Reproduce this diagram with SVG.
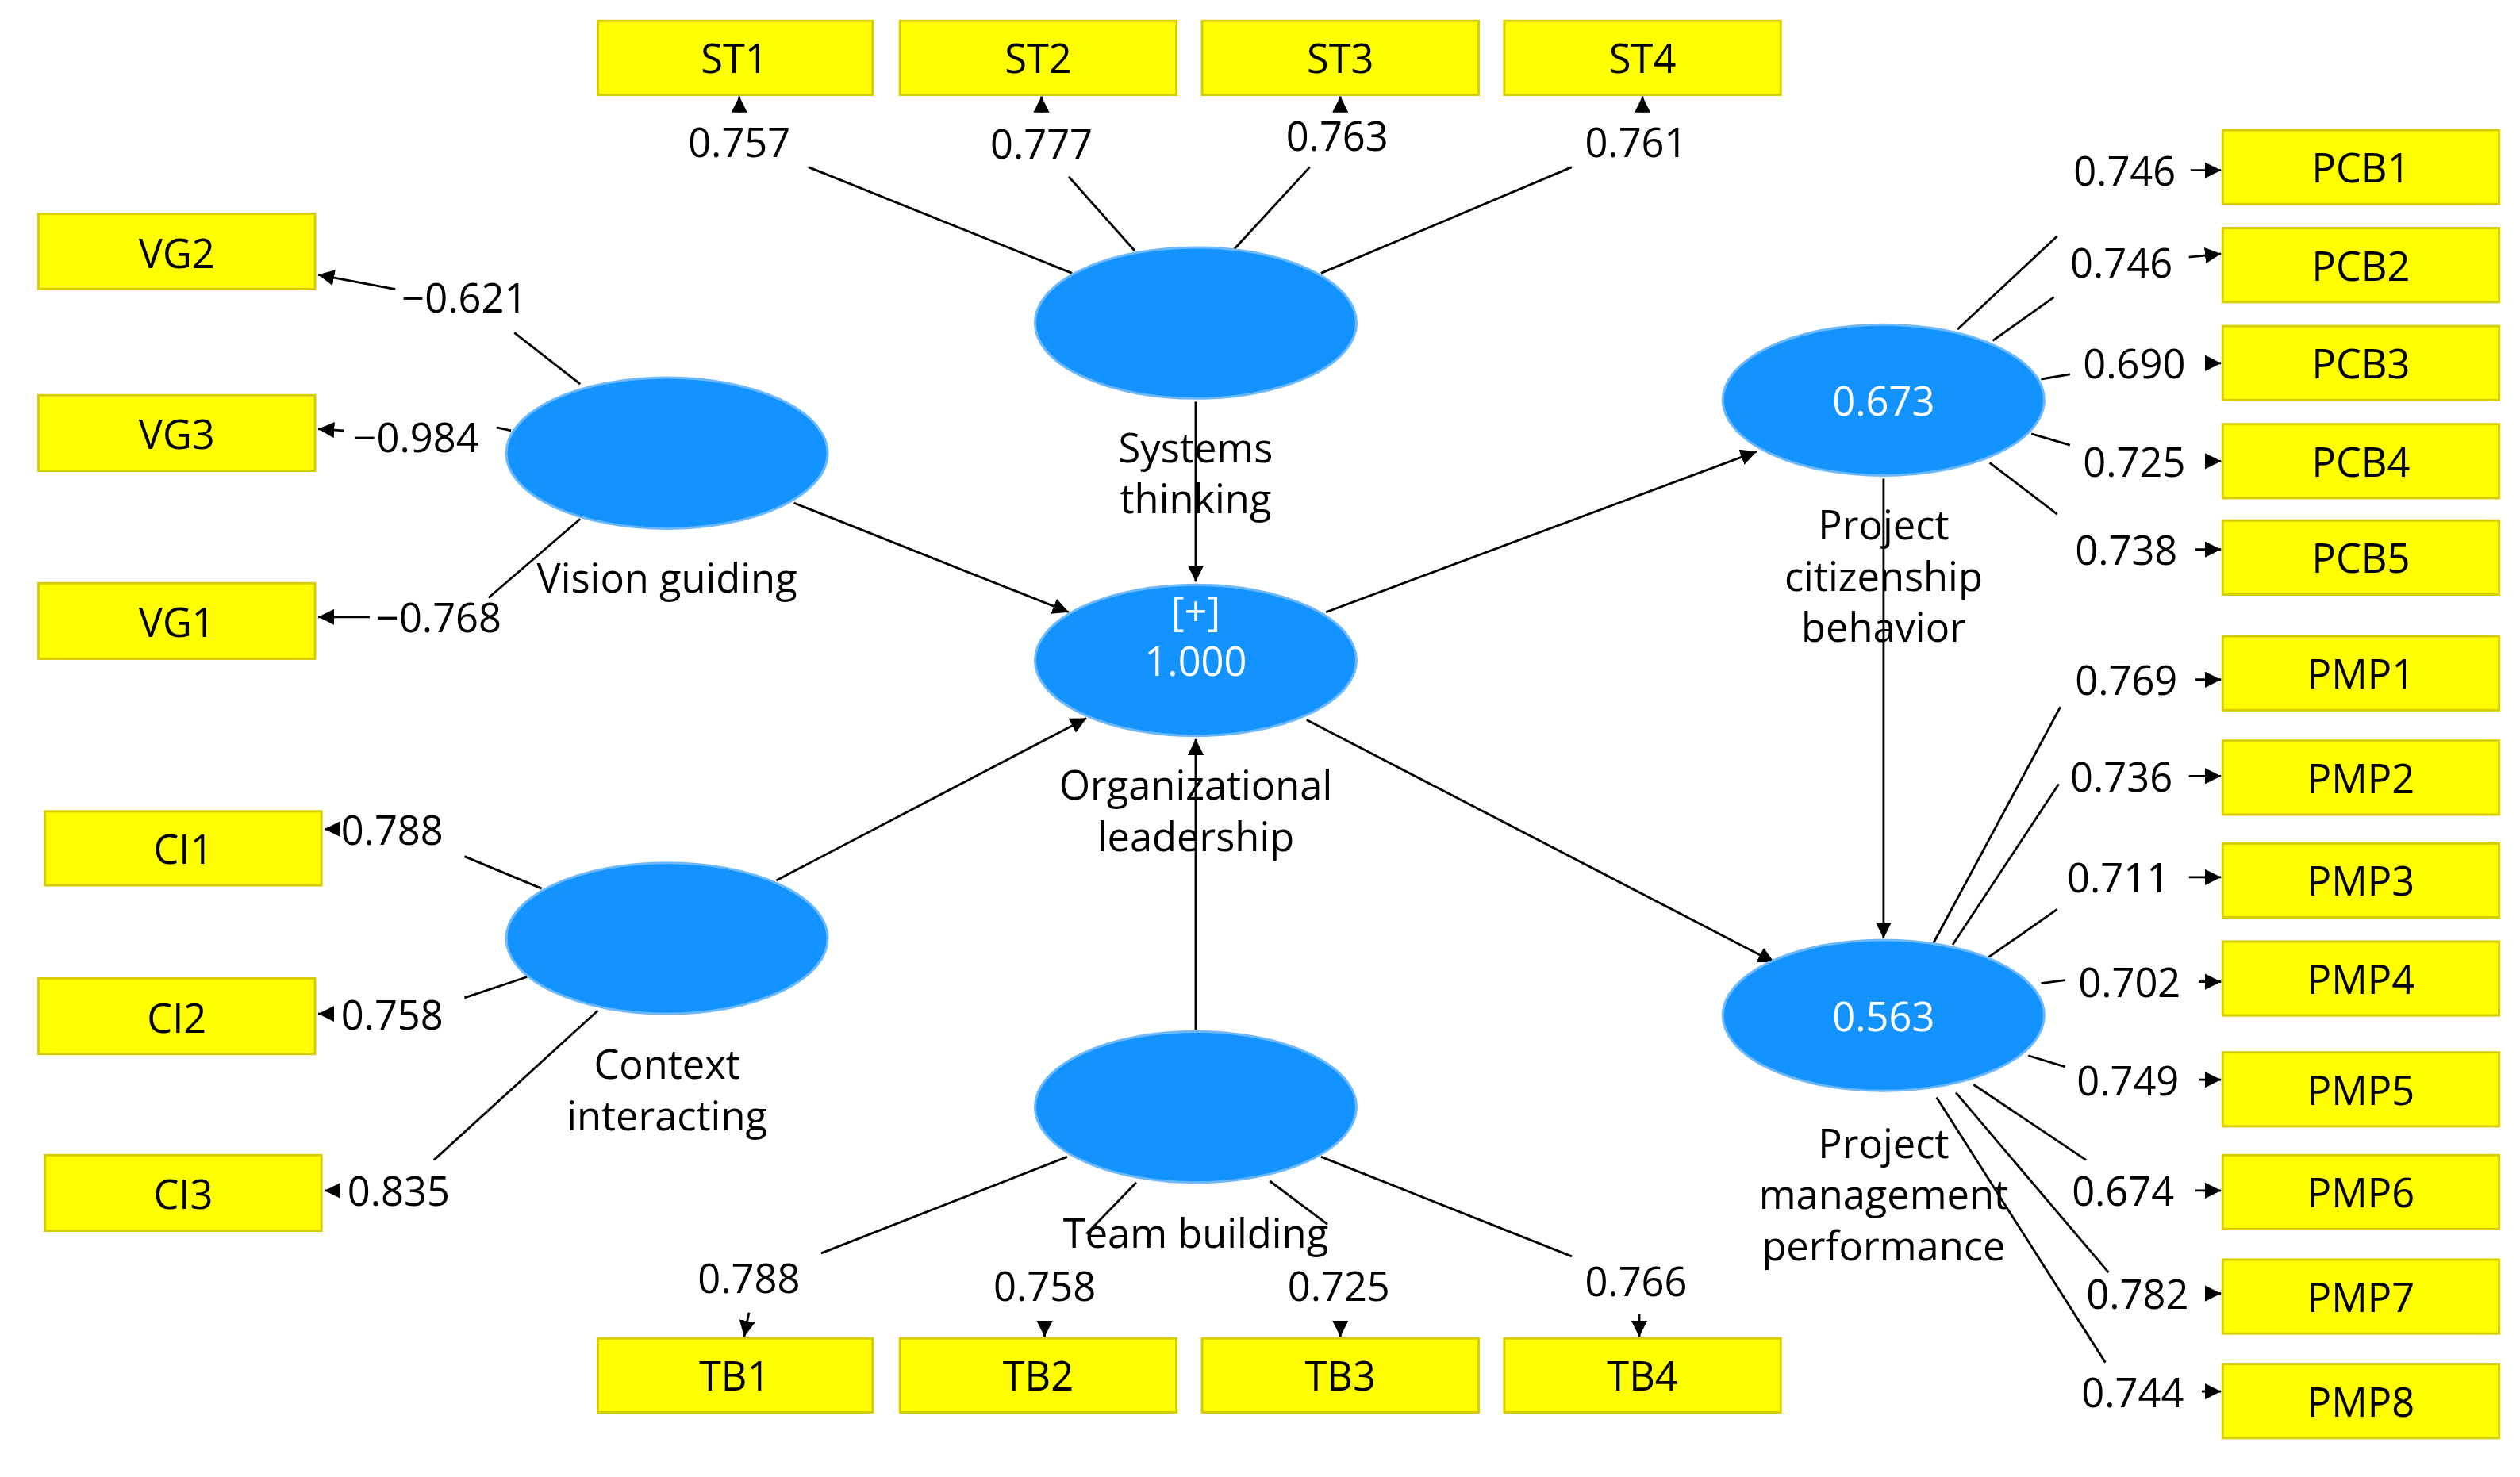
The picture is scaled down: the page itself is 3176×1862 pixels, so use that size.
<svg xmlns="http://www.w3.org/2000/svg" width="3176" height="1862" viewBox="0 0 3176 1862">
<style>
.box{fill:#ffff00;stroke:#d6cc00;stroke-width:1.5}
.lv{fill:#1393ff;stroke:#6cb8ff;stroke-width:1.5}
.bt{font-family:"Open Sans","Noto Sans",sans-serif;font-size:25px;fill:#000;text-anchor:middle;dominant-baseline:central}
.lt{font-family:"Open Sans","Noto Sans",sans-serif;font-size:25px;fill:#000;text-anchor:middle;dominant-baseline:central}
.wt{font-family:"Open Sans","Noto Sans",sans-serif;font-size:25px;fill:#fff;text-anchor:middle;dominant-baseline:central}
.ln{stroke:#000;stroke-width:1.4;fill:none}
.ar{stroke:#000;stroke-width:1.4;fill:none;marker-end:url(#ah)}
</style>
<defs>
<marker id="ah" viewBox="0 0 10 10" refX="10" refY="5" markerWidth="10" markerHeight="10" markerUnits="userSpaceOnUse" orient="auto"><path d="M0,0 L10,5 L0,10 Z" fill="#000"/></marker>
</defs>
<rect width="3176" height="1862" fill="#fff"/>
<g transform="scale(2.0255)">
<g id="connectors">
<line class="ar" x1="744" y1="250" x2="744" y2="362"/>
<line class="ar" x1="494" y1="313" x2="665" y2="381"/>
<line class="ar" x1="483" y1="548" x2="676" y2="447"/>
<line class="ar" x1="744" y1="641" x2="744" y2="460"/>
<line class="ar" x1="825" y1="381" x2="1093" y2="281"/>
<line class="ar" x1="813" y1="448" x2="1104" y2="599"/>
<line class="ar" x1="1172" y1="298" x2="1172" y2="584"/>
<!-- ST -->
<line class="ln" x1="667" y1="170" x2="503" y2="104"/><line class="ar" x1="460" y1="70" x2="460" y2="60"/>
<line class="ln" x1="706" y1="156" x2="665" y2="110"/><line class="ar" x1="648" y1="70" x2="648" y2="60"/>
<line class="ln" x1="768" y1="155" x2="815" y2="104"/><line class="ar" x1="834" y1="68" x2="834" y2="60"/>
<line class="ln" x1="822" y1="170" x2="978" y2="104"/><line class="ar" x1="1022" y1="70" x2="1022" y2="60"/>
<!-- VG -->
<line class="ln" x1="361" y1="239" x2="320" y2="207"/><line class="ar" x1="246" y1="180" x2="198" y2="171"/>
<line class="ln" x1="318" y1="268" x2="309" y2="266"/><line class="ar" x1="214" y1="268" x2="198" y2="267"/>
<line class="ln" x1="361" y1="323" x2="304" y2="372"/><line class="ar" x1="230" y1="384" x2="198" y2="384"/>
<!-- CI -->
<line class="ln" x1="337" y1="553" x2="289" y2="533"/><line class="ar" x1="208" y1="516" x2="202" y2="516"/>
<line class="ln" x1="328" y1="608" x2="289" y2="621"/><line class="ar" x1="205" y1="631" x2="198" y2="631"/>
<line class="ln" x1="372" y1="629" x2="270" y2="722"/><line class="ar" x1="210" y1="741" x2="202" y2="741"/>
<!-- TB -->
<line class="ln" x1="664" y1="720" x2="511" y2="780"/><line class="ar" x1="466" y1="817" x2="463" y2="832"/>
<line class="ln" x1="707" y1="736" x2="676" y2="768"/><line class="ar" x1="650" y1="822" x2="650" y2="832"/>
<line class="ln" x1="790" y1="735" x2="826" y2="762"/><line class="ar" x1="834" y1="822" x2="834" y2="832"/>
<line class="ln" x1="822" y1="720" x2="978" y2="782"/><line class="ar" x1="1020" y1="818" x2="1020" y2="832"/>
<!-- PCB -->
<line class="ln" x1="1218" y1="205" x2="1280" y2="147"/><line class="ar" x1="1363" y1="106" x2="1382" y2="106"/>
<line class="ln" x1="1240" y1="212" x2="1278" y2="185"/><line class="ar" x1="1362" y1="160" x2="1382" y2="158"/>
<line class="ln" x1="1270" y1="236" x2="1288" y2="233"/><line class="ar" x1="1372" y1="226" x2="1382" y2="226"/>
<line class="ln" x1="1264" y1="270" x2="1288" y2="277"/><line class="ar" x1="1372" y1="287" x2="1382" y2="287"/>
<line class="ln" x1="1238" y1="288" x2="1280" y2="320"/><line class="ar" x1="1366" y1="342" x2="1382" y2="342"/>
<!-- PMP -->
<line class="ln" x1="1203" y1="587" x2="1282" y2="440"/><line class="ar" x1="1366" y1="423" x2="1382" y2="423"/>
<line class="ln" x1="1215" y1="588" x2="1281" y2="488"/><line class="ar" x1="1362" y1="483" x2="1382" y2="483"/>
<line class="ln" x1="1237" y1="596" x2="1280" y2="566"/><line class="ar" x1="1362" y1="546" x2="1382" y2="546"/>
<line class="ln" x1="1270" y1="612" x2="1285" y2="610"/><line class="ar" x1="1368" y1="611" x2="1382" y2="611"/>
<line class="ln" x1="1262" y1="657" x2="1285" y2="664"/><line class="ar" x1="1368" y1="672" x2="1382" y2="672"/>
<line class="ln" x1="1228" y1="675" x2="1298" y2="722"/><line class="ar" x1="1366" y1="741" x2="1382" y2="741"/>
<line class="ln" x1="1217" y1="680" x2="1312" y2="792"/><line class="ar" x1="1372" y1="805" x2="1382" y2="805"/>
<line class="ln" x1="1205" y1="683" x2="1310" y2="848"/><line class="ar" x1="1370" y1="866" x2="1382" y2="866"/>
</g>
<g id="loadings">
<text class="lt" x="460" y="88">0.757</text><text class="lt" x="648" y="89">0.777</text><text class="lt" x="832" y="84">0.763</text><text class="lt" x="1018" y="88">0.761</text>
<text class="lt" x="289" y="185">−0.621</text><text class="lt" x="259" y="272">−0.984</text><text class="lt" x="273" y="384">−0.768</text>
<text class="lt" x="244" y="516">0.788</text><text class="lt" x="244" y="631">0.758</text><text class="lt" x="248" y="741">0.835</text>
<text class="lt" x="466" y="795">0.788</text><text class="lt" x="650" y="800">0.758</text><text class="lt" x="833" y="800">0.725</text><text class="lt" x="1018" y="797">0.766</text>
<text class="lt" x="1322" y="106">0.746</text><text class="lt" x="1320" y="163">0.746</text><text class="lt" x="1328" y="226">0.690</text><text class="lt" x="1328" y="287">0.725</text><text class="lt" x="1323" y="342">0.738</text>
<text class="lt" x="1323" y="423">0.769</text><text class="lt" x="1320" y="483">0.736</text><text class="lt" x="1318" y="546">0.711</text><text class="lt" x="1325" y="611">0.702</text><text class="lt" x="1324" y="672">0.749</text><text class="lt" x="1321" y="741">0.674</text><text class="lt" x="1330" y="805">0.782</text><text class="lt" x="1327" y="866">0.744</text>
</g>
<g id="ST"><ellipse class="lv" cx="744" cy="201" rx="100" ry="47"/><text class="lt" x="744" y="278">Systems</text><text class="lt" x="744" y="310">thinking</text></g>
<g id="VG"><ellipse class="lv" cx="415" cy="282" rx="100" ry="47"/><text class="lt" x="415" y="359">Vision guiding</text></g>
<g id="OL"><ellipse class="lv" cx="744" cy="411" rx="100" ry="47"/><text class="wt" x="744" y="380">[+]</text><text class="wt" x="744" y="411">1.000</text><text class="lt" x="744" y="488">Organizational</text><text class="lt" x="744" y="520">leadership</text></g>
<g id="CI"><ellipse class="lv" cx="415" cy="584" rx="100" ry="47"/><text class="lt" x="415" y="662">Context</text><text class="lt" x="415" y="694">interacting</text></g>
<g id="TB"><ellipse class="lv" cx="744" cy="689" rx="100" ry="47"/><text class="lt" x="744" y="767">Team building</text></g>
<g id="PCB"><ellipse class="lv" cx="1172" cy="249" rx="100" ry="47"/><text class="wt" x="1172" y="249">0.673</text><text class="lt" x="1172" y="326">Project</text><text class="lt" x="1172" y="358">citizenship</text><text class="lt" x="1172" y="390">behavior</text></g>
<g id="PMP"><ellipse class="lv" cx="1172" cy="632" rx="100" ry="47"/><text class="wt" x="1172" y="632">0.563</text><text class="lt" x="1172" y="711">Project</text><text class="lt" x="1172" y="743">management</text><text class="lt" x="1172" y="775">performance</text></g>
<g id="ST1"><rect class="box" x="372" y="13" width="171" height="46"/><text class="bt" x="457" y="36">ST1</text></g>
<g id="ST2"><rect class="box" x="560" y="13" width="172" height="46"/><text class="bt" x="646" y="36">ST2</text></g>
<g id="ST3"><rect class="box" x="748" y="13" width="172" height="46"/><text class="bt" x="834" y="36">ST3</text></g>
<g id="ST4"><rect class="box" x="936" y="13" width="172" height="46"/><text class="bt" x="1022" y="36">ST4</text></g>
<g id="TB1"><rect class="box" x="372" y="833" width="171" height="46"/><text class="bt" x="457" y="856">TB1</text></g>
<g id="TB2"><rect class="box" x="560" y="833" width="172" height="46"/><text class="bt" x="646" y="856">TB2</text></g>
<g id="TB3"><rect class="box" x="748" y="833" width="172" height="46"/><text class="bt" x="834" y="856">TB3</text></g>
<g id="TB4"><rect class="box" x="936" y="833" width="172" height="46"/><text class="bt" x="1022" y="856">TB4</text></g>
<g id="VG2"><rect class="box" x="24" y="133" width="172" height="47"/><text class="bt" x="110" y="157">VG2</text></g>
<g id="VG3"><rect class="box" x="24" y="246" width="172" height="47"/><text class="bt" x="110" y="270">VG3</text></g>
<g id="VG1"><rect class="box" x="24" y="363" width="172" height="47"/><text class="bt" x="110" y="387">VG1</text></g>
<g id="CI1"><rect class="box" x="28" y="505" width="172" height="46"/><text class="bt" x="114" y="528">CI1</text></g>
<g id="CI2"><rect class="box" x="24" y="609" width="172" height="47"/><text class="bt" x="110" y="633">CI2</text></g>
<g id="CI3"><rect class="box" x="28" y="719" width="172" height="47"/><text class="bt" x="114" y="743">CI3</text></g>
<g id="PCB1"><rect class="box" x="1383" y="81" width="172" height="46"/><text class="bt" x="1469" y="104">PCB1</text></g>
<g id="PCB2"><rect class="box" x="1383" y="142" width="172" height="46"/><text class="bt" x="1469" y="165">PCB2</text></g>
<g id="PCB3"><rect class="box" x="1383" y="203" width="172" height="46"/><text class="bt" x="1469" y="226">PCB3</text></g>
<g id="PCB4"><rect class="box" x="1383" y="264" width="172" height="46"/><text class="bt" x="1469" y="287">PCB4</text></g>
<g id="PCB5"><rect class="box" x="1383" y="324" width="172" height="46"/><text class="bt" x="1469" y="347">PCB5</text></g>
<g id="PMP1"><rect class="box" x="1383" y="396" width="172" height="46"/><text class="bt" x="1469" y="419">PMP1</text></g>
<g id="PMP2"><rect class="box" x="1383" y="461" width="172" height="46"/><text class="bt" x="1469" y="484">PMP2</text></g>
<g id="PMP3"><rect class="box" x="1383" y="525" width="172" height="46"/><text class="bt" x="1469" y="548">PMP3</text></g>
<g id="PMP4"><rect class="box" x="1383" y="586" width="172" height="46"/><text class="bt" x="1469" y="609">PMP4</text></g>
<g id="PMP5"><rect class="box" x="1383" y="655" width="172" height="46"/><text class="bt" x="1469" y="678">PMP5</text></g>
<g id="PMP6"><rect class="box" x="1383" y="719" width="172" height="46"/><text class="bt" x="1469" y="742">PMP6</text></g>
<g id="PMP7"><rect class="box" x="1383" y="784" width="172" height="46"/><text class="bt" x="1469" y="807">PMP7</text></g>
<g id="PMP8"><rect class="box" x="1383" y="849" width="172" height="46"/><text class="bt" x="1469" y="872">PMP8</text></g>
</g>
</svg>
